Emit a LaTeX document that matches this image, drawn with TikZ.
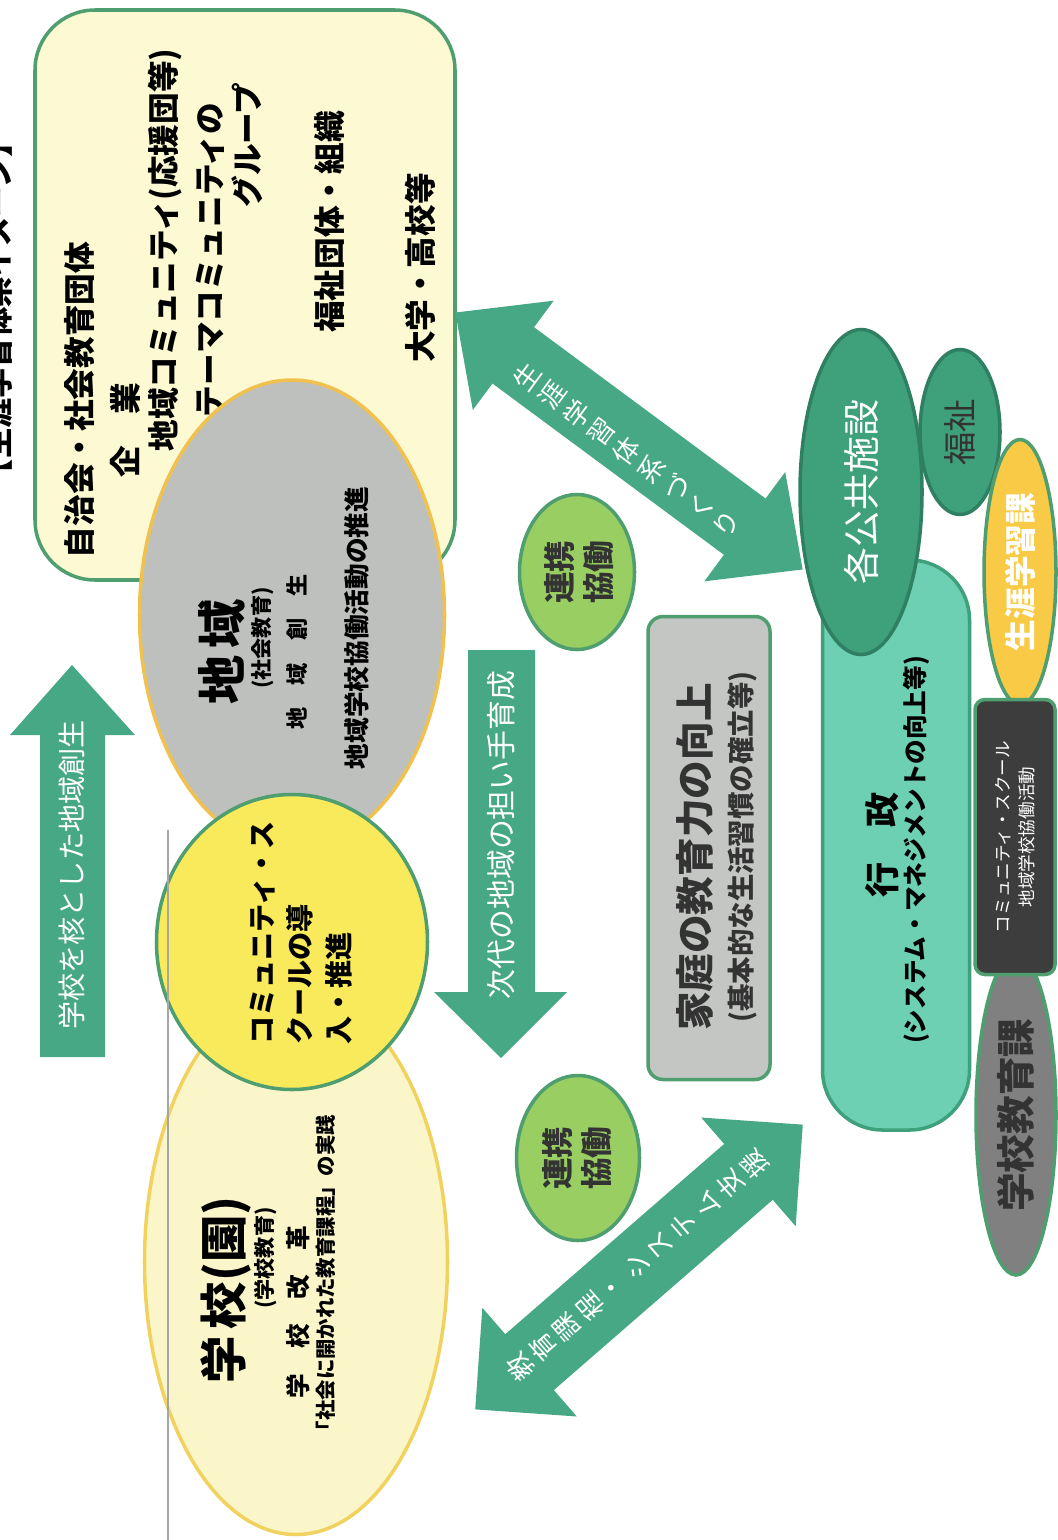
\documentclass[tikz,border=0pt]{standalone}
\usepackage{fontspec}
\setmainfont{Noto Sans CJK JP}
\usetikzlibrary{shapes.geometric}

\definecolor{boxyellow}{HTML}{FCF9D3}
\definecolor{linegreen}{HTML}{4E9E70}
\definecolor{arrowgreen}{HTML}{47A886}
\definecolor{chiikigrey}{HTML}{BEC0BE}
\definecolor{rimorange}{HTML}{F1C14F}
\definecolor{gakkoyellow}{HTML}{FBF6CA}
\definecolor{rimyellow}{HTML}{F2D25E}
\definecolor{csyellow}{HTML}{F8EA5B}
\definecolor{renkeigreen}{HTML}{98CE62}
\definecolor{kateigrey}{HTML}{C4C6C3}
\definecolor{gyoseigreen}{HTML}{6DD0B2}
\definecolor{shisetsugreen}{HTML}{3FA07C}
\definecolor{darkrim}{HTML}{2F8062}
\definecolor{shogaiyellow}{HTML}{F8CA45}
\definecolor{csdark}{HTML}{3C3D3C}
\definecolor{kyoikugrey}{HTML}{808080}
\definecolor{textgrey}{HTML}{333333}

\begin{document}
\begin{tikzpicture}[x=0.1mm, y=-0.1mm]
        \tikzstyle{txt} = [rotate=90, inner sep=0pt, align=center]
        \tikzstyle{blob} = [ellipse, rotate=90, inner sep=0pt, line width=1pt]
        \tikzstyle{panel} = [rectangle, rotate=90, inner sep=0pt, line width=1pt]
        \tikzstyle{band} = [fill=arrowgreen]
        \tikzstyle{onband} = [inner sep=0pt, text=white, font=\fontsize{7.5}{9}\selectfont]

        \useasboundingbox (0,0) rectangle (1057,1540);

        % title, cut off at the page edge
        \node (title) [txt, font=\bfseries\fontsize{8.6}{10}\selectfont] at (-2,308) {【生涯学習体系イメージ】};

        % groups of the region
        \node (groups) [panel, rounded corners=6mm, minimum width=57mm, minimum height=42mm, fill=boxyellow, draw=linegreen] at (245,295) {};
        \node (jichi) [txt, font=\bfseries\fontsize{9}{11}\selectfont] at (80,400) {自治会・社会教育団体};
        \node (kigyo) [txt, font=\bfseries\fontsize{9}{11}\selectfont] at (125,430) {企　業};
        \node (chiikicom) [txt, font=\bfseries\fontsize{9}{11}\selectfont] at (165,250) {地域コミュニティ(応援団等)};
        \node (theme) [txt, font=\bfseries\fontsize{9}{11}\selectfont] at (210,260) {テーマコミュニティの};
        \node (group) [txt, font=\bfseries\fontsize{9}{11}\selectfont] at (247,145) {グループ};
        \node (fukushidantai) [txt, font=\bfseries\fontsize{9}{11}\selectfont] at (330,222) {福祉団体・組織};
        \node (daigaku) [txt, font=\bfseries\fontsize{9}{11}\selectfont] at (420,268) {大学・高校等};

        % region, school, community school
        \node (chiiki) [blob, minimum width=47mm, minimum height=30.5mm, fill=chiikigrey, draw=rimorange] at (292,615) {};
        \node (gakko) [blob, minimum width=54.5mm, minimum height=30.3mm, fill=gakkoyellow, draw=rimyellow] at (296,1262) {};
        \node (cs) [blob, minimum width=29.5mm, minimum height=27.1mm, fill=csyellow, draw=linegreen] at (292,942) {};

        \node (chiikiname) [txt, font=\bfseries\fontsize{14}{16}\selectfont] at (222,652) {地\hspace{.15em}域};
        \node (shakai) [txt, font=\bfseries\fontsize{6}{7}\selectfont] at (263,638) {(社会教育)};
        \node (sosei) [txt, font=\bfseries\fontsize{6.3}{7}\selectfont] at (297,652) {地　域　創　生};
        \node (kyodo) [txt, font=\bfseries\fontsize{7.3}{8}\selectfont] at (357,628) {地域学校協働活動の推進};

        \node (csname) [txt, align=left, font=\bfseries\fontsize{8}{11}\selectfont] at (301,933) {コミュニティ・ス\\クールの導\\入・推進};

        \node (gakkoname) [txt, font=\bfseries\fontsize{13.5}{16}\selectfont] at (226,1290) {学\hspace{.15em}校(園)};
        \node (gakkokyoiku) [txt, font=\bfseries\fontsize{6}{7}\selectfont] at (266,1258) {(学校教育)};
        \node (kaikaku) [txt, font=\bfseries\fontsize{7}{8}\selectfont] at (298,1312) {学　校　改　革};
        \node (katei) [txt, font=\bfseries\fontsize{5.8}{7}\selectfont] at (326,1278) {「社会に開かれた教育課程」の実践};

        % straight arrows
        \fill [band] (72,665) -- (135,735) -- (105,735) -- (105,1057) -- (40,1057) -- (40,735) -- (10,735) -- cycle;
        \node (sosei arrow) [txt, text=white, font=\fontsize{8}{9}\selectfont] at (72,875) {学校を核とした地域創生};
        \fill [band] (535,650) -- (535,992) -- (567,992) -- (501,1058) -- (434,992) -- (468,992) -- (468,650) -- cycle;
        \node (ikusei) [txt, text=white, font=\fontsize{8.5}{10}\selectfont] at (501,835) {次代の地域の担い手育成};

        % renkei
        \node (renkei1) [blob, minimum width=15.5mm, minimum height=11.5mm, fill=renkeigreen, draw=linegreen] at (577,572) {};
        \node (renkei1 text) [txt, text=textgrey, font=\bfseries\fontsize{9}{11}\selectfont] at (579,572) {連携\\協働};
        \node (renkei2) [blob, minimum width=16.5mm, minimum height=12.3mm, fill=renkeigreen, draw=linegreen] at (578,1158) {};
        \node (renkei2 text) [txt, text=textgrey, font=\bfseries\fontsize{9}{11}\selectfont] at (577,1158) {連携\\協働};

        % family
        \node (family) [panel, rounded corners=1.5mm, minimum width=46.3mm, minimum height=12.2mm, fill=kateigrey, draw=linegreen] at (709,848) {};
        \node (family text) [txt, text=textgrey, font=\bfseries\fontsize{11}{13}\selectfont] at (695,857) {家庭の教育力の向上};
        \node (family note) [txt, text=textgrey, font=\bfseries\fontsize{7.8}{9}\selectfont] at (742,847) {(基本的な生活習慣の確立等)};

        % diagonal arrows
        \begin{scope}[shift={(629,441)}, rotate=-36.5]
                \fill [band] (-216,0) -- (-144,68) -- (-144,35) -- (144,35) -- (144,68) -- (216,0) -- (144,-68) -- (144,-35) -- (-144,-35) -- (-144,-68) -- cycle;
        \end{scope}
        \foreach \c [count=\i from 0] in {生,涯,学,習,体,系,づ,く,り}
                \node (taikei-\i) [onband, rotate=53.5] at ({527+24.9*\i},{377+18.4*\i}) {\c};
        \begin{scope}[shift={(639,1267)}, rotate=41]
                \fill [band] (-217,0) -- (-145,72) -- (-145,37) -- (145,37) -- (145,72) -- (217,0) -- (145,-72) -- (145,-37) -- (-145,-37) -- (-145,-72) -- cycle;
        \end{scope}
        \foreach \c [count=\i from 0] in {教,育,課,程,・,シ,ス,テ,ム,支,援}
                \node (shien-\i) [onband, rotate=131] at ({520+23.4*\i},{1367-20.3*\i}) {\c};

        % administration
        \node (gyosei) [panel, rounded corners=6mm, minimum width=57mm, minimum height=14.7mm, fill=gyoseigreen, draw=shisetsugreen] at (896,845) {};
        \node (gyosei name) [txt, font=\bfseries\fontsize{10}{12}\selectfont] at (882,845) {行　政};
        \node (gyosei note) [txt, font=\bfseries\fontsize{7}{8}\selectfont] at (916,850) {(システム・マネジメントの向上等)};
        \node (shisetsu) [blob, minimum width=32.5mm, minimum height=12.2mm, fill=shisetsugreen, draw=darkrim, text=white, font=\fontsize{10.5}{12}\selectfont] at (861,492) {各公共施設};
        \node (fukushi) [blob, minimum width=16.5mm, minimum height=8mm, fill=shisetsugreen, draw=darkrim, text=textgrey, font=\fontsize{9.5}{11}\selectfont] at (960,432) {福祉};
        \node (shogai) [blob, minimum width=26.5mm, minimum height=7.2mm, fill=shogaiyellow, draw=linegreen, text=white, font=\bfseries\fontsize{9}{11}\selectfont] at (1020,572) {生涯学習課};
        \node (kyoiku) [blob, minimum width=32mm, minimum height=8mm, fill=kyoikugrey, draw=linegreen, text=textgrey, font=\bfseries\fontsize{11}{13}\selectfont] at (1016,1115) {学校教育課};
        \node (csbox) [panel, rounded corners=1mm, minimum width=27.5mm, minimum height=8mm, fill=csdark, draw=linegreen, text=white, align=center, font=\fontsize{5}{7}\selectfont] at (1015,837) {コミュニティ・スクール\\地域学校協働活動};

        % page fold
        \draw [gray!70, line width=0.6pt] (168,830) -- (168,1540);
    \end{tikzpicture}
\end{document}
